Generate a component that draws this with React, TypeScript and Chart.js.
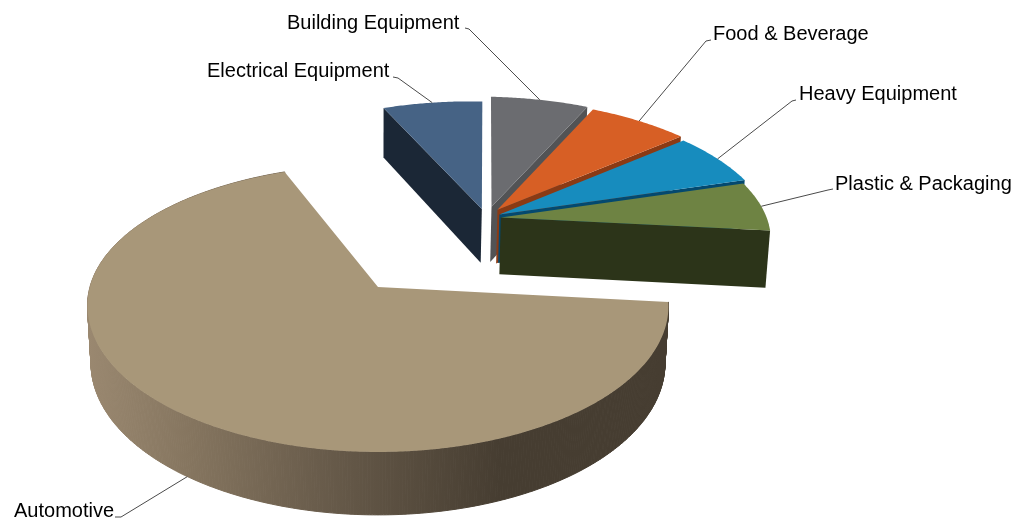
import React, { useEffect, useRef } from "react";
import { Chart, registerables } from "chart.js";

Chart.register(...registerables);

const categories = ["Automotive", "Electrical Equipment", "Building Equipment", "Food & Beverage", "Heavy Equipment", "Plastic & Packaging"];
const shares = [67.25, 6.89, 6.53, 6.72, 6.39, 6.22];

const topColors = ["#A89779", "#466385", "#6B6C70", "#D75F25", "#178CBE", "#6E8343"];
const wallColors = ["#463D31", "#1B2736", "#525355", "#8A3A14", "#04496F", "#2C3419"];
const apexX = [0, 0.388, 0.425, 0.446, 0.451, 0.455];
const apexY = [0, 0.585, 0.603, 0.578, 0.541, 0.516];
const backTaper = [0.04, 0.03, 0, 0, 0, 0];
const rimScale = [1, 1, 1, 1, 1, 0.985];
const depthScale = [1, 1, 1.03, 1.0, 0.9, 1.05];
const labelX = [14, 207, 287, 713, 799, 835];
const labelY = [517, 77, 29, 40, 100, 190];
const leaderStart = [[115, 517, 121, 517], [393, 77, 398, 78], [465, 28, 469, 29], [711, 40, 706, 41], [796, 100, 792, 101], [833, 189, 828, 190]];

const view = { px: 378, py: 287, a: 288, b: 143.5, p: 0.13, h: 57.5, q: 0.012 };

function project(x: number, y: number, z: number): [number, number] {
  const w = 1 + view.p * y + view.q * z;
  return [view.px + (view.a * x) / w, view.py + (-view.b * y + view.h * z) / w];
}

function rimPoint(i: number, angle: number, z: number): [number, number] {
  const up = Math.max(0, -Math.sin(angle));
  const r = rimScale[i] * (1 - backTaper[i] * up * up);
  return project(apexX[i] + r * Math.cos(angle), apexY[i] - r * Math.sin(angle), z * depthScale[i]);
}

const pie3d = {
  id: "pie3d",
  beforeDatasetsDraw(chart: any) {
    const ctx: CanvasRenderingContext2D = chart.ctx;
    const arcs = chart.getDatasetMeta(0).data;
    const order = [1, 2, 3, 4, 5, 0];
    const wallGradient = ctx.createLinearGradient(88, 0, 500, 0);
    wallGradient.addColorStop(0, "#9A8870");
    wallGradient.addColorStop(0.25, "#85755F");
    wallGradient.addColorStop(0.55, "#6A5D4C");
    wallGradient.addColorStop(1, "#463D31");

    const fillPath = (pts: [number, number][], color: any) => {
      ctx.beginPath();
      pts.forEach((pt, k) => (k ? ctx.lineTo(pt[0], pt[1]) : ctx.moveTo(pt[0], pt[1])));
      ctx.closePath();
      ctx.fillStyle = color;
      ctx.fill();
    };

    for (const i of order) {
      const { startAngle, endAngle } = arcs[i];
      const steps = Math.max(48, Math.ceil(((endAngle - startAngle) * 360) / Math.PI));
      const angle = (k: number) => startAngle + ((endAngle - startAngle) * k) / steps;
      const apexTop = project(apexX[i], apexY[i], 0);
      const apexBottom = project(apexX[i], apexY[i], depthScale[i]);

      const wallAngle = i === 1 ? startAngle : endAngle;
      if (i !== 0) {
        fillPath([apexTop, rimPoint(i, wallAngle, 0), rimPoint(i, wallAngle, 1), apexBottom], wallColors[i]);
      }

      if (i === 0) {
        ctx.strokeStyle = wallGradient;
        ctx.lineWidth = 1;
        ctx.lineJoin = "round";
        for (let k = 0; k < steps; k++) {
          fillPath(
            [rimPoint(i, angle(k), 0), rimPoint(i, angle(k + 1), 0), rimPoint(i, angle(k + 1), 1), rimPoint(i, angle(k), 1)],
            wallGradient
          );
          ctx.stroke();
        }
      }

      const top: [number, number][] = [apexTop];
      for (let k = 0; k <= steps; k++) top.push(rimPoint(i, angle(k), 0));
      fillPath(top, topColors[i]);
    }

    ctx.strokeStyle = "#4A4A4A";
    ctx.lineWidth = 1;
    ctx.fillStyle = "#000000";
    ctx.textBaseline = "alphabetic";
    ctx.textAlign = "left";
    ctx.font = "20px 'Liberation Sans'";
    categories.forEach((name, i) => {
      const mid = (arcs[i].startAngle + arcs[i].endAngle) / 2;
      const anchor = rimPoint(i, mid, i === 0 ? 1 : 0);
      const s = leaderStart[i];
      ctx.beginPath();
      ctx.moveTo(s[0], s[1]);
      ctx.lineTo(s[2], s[3]);
      ctx.lineTo(anchor[0], anchor[1]);
      ctx.stroke();
      ctx.fillText(name, labelX[i], labelY[i]);
    });
    return false;
  },
};

export default function App() {
  const ref = useRef<HTMLCanvasElement>(null);
  useEffect(() => {
    document.body.style.margin = "0";
    const chart = new Chart(ref.current!, {
      type: "pie",
      data: {
        labels: categories,
        datasets: [{ data: shares, backgroundColor: topColors, borderWidth: 0 }],
      },
      options: {
        animation: false,
        responsive: false,
        rotation: 95.9,
        plugins: { legend: { display: false }, tooltip: { enabled: false } },
      },
      plugins: [pie3d],
    } as any);
    return () => chart.destroy();
  }, []);
  return <canvas ref={ref} width={1024} height={531} style={{ display: "block" }} />;
}
